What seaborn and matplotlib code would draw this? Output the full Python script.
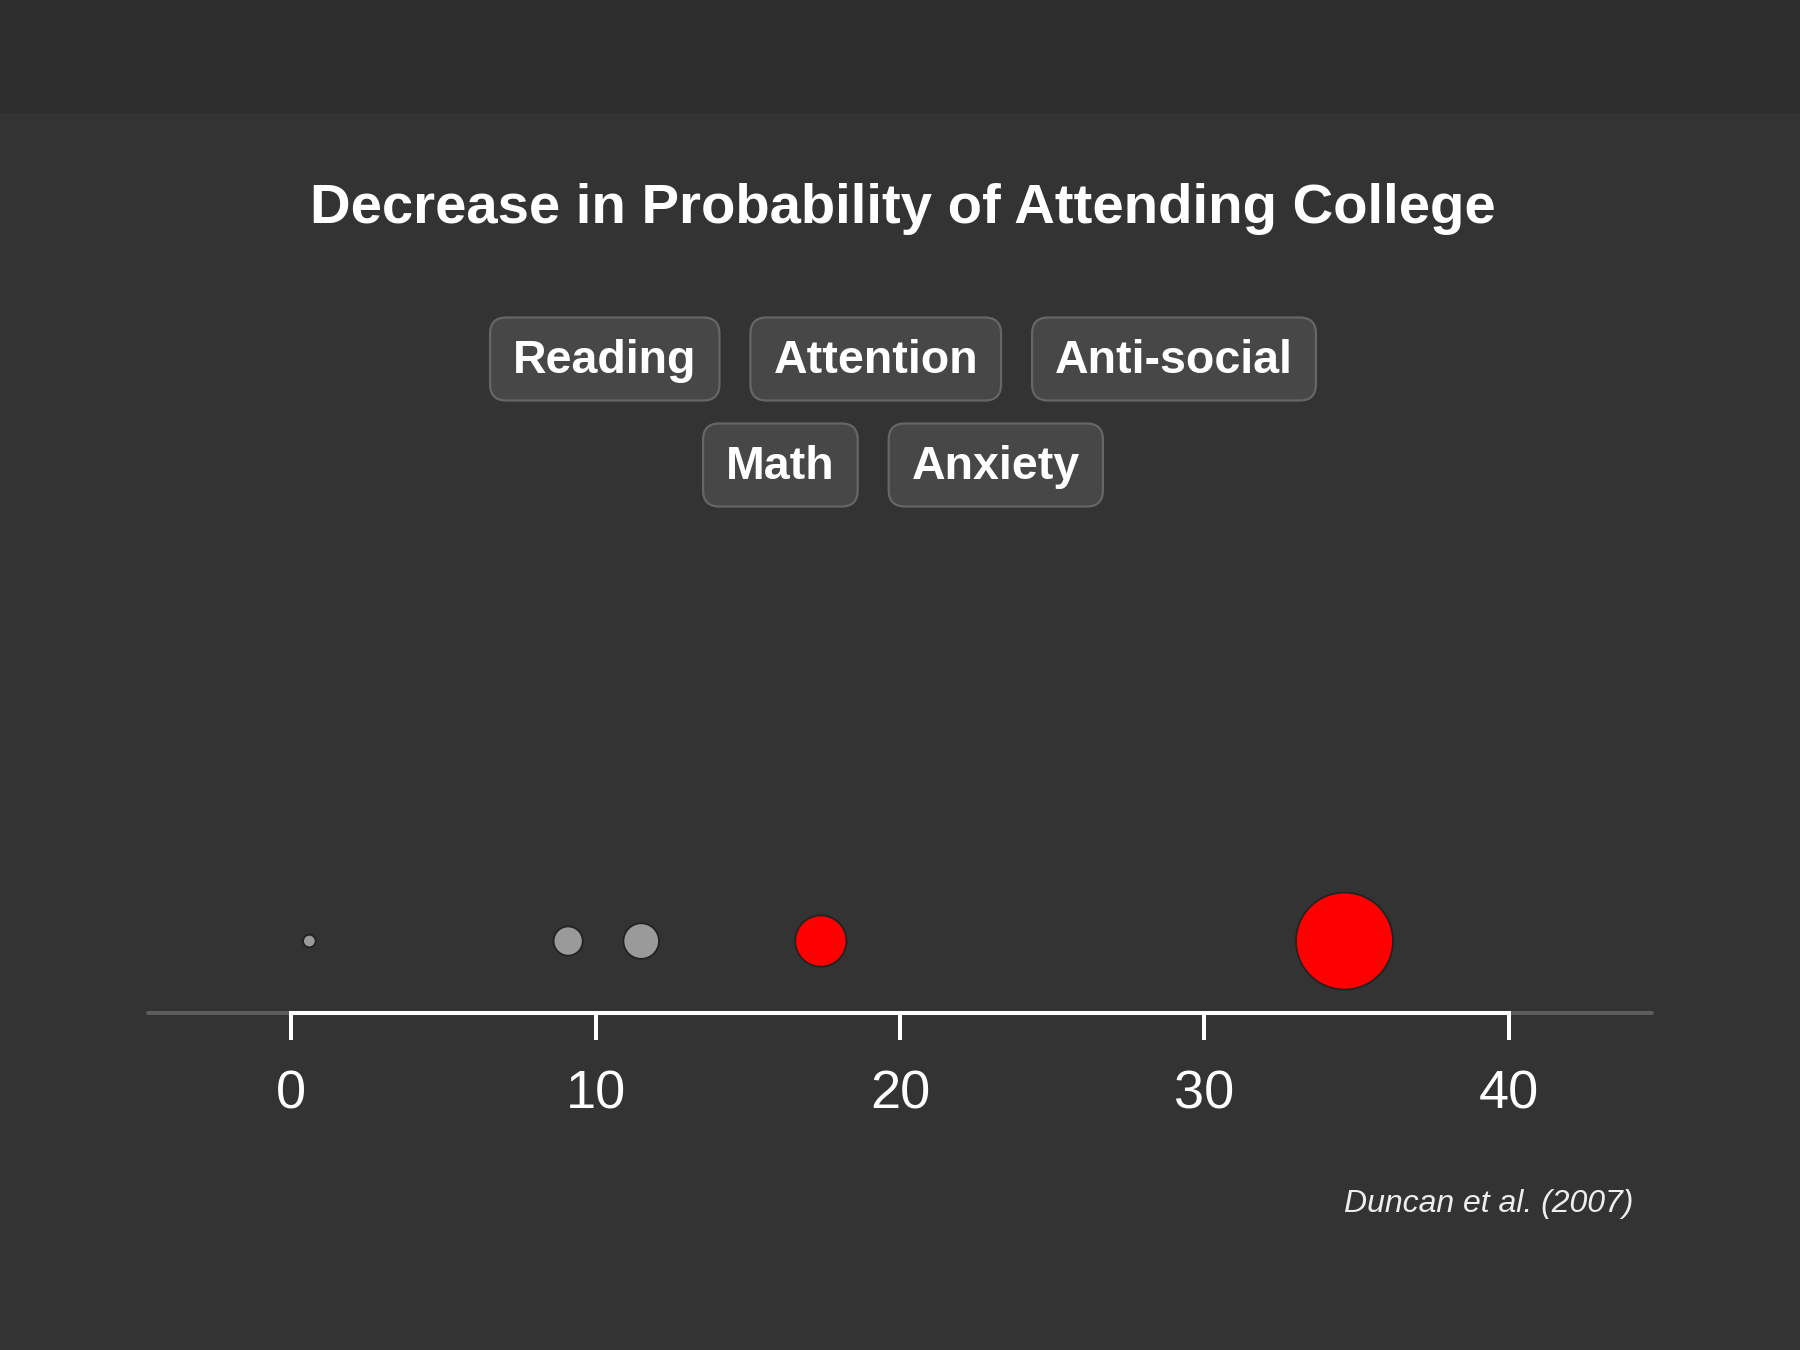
import numpy as np
import pandas as pd
import matplotlib.pyplot as plt
from matplotlib.patches import FancyBboxPatch, Rectangle
import seaborn as sns


# chart data
title = "Decrease in Probability of Attending College"
source = "Duncan et al. (2007)"
factors = ["Reading", "Attention", "Anti-social", "Math", "Anxiety"]
decrease = [0.6, 9.1, 11.5, 17.4, 34.6]
highlight = [False, False, False, True, True]
x_ticks = [0, 10, 20, 30, 40]

W, H = 1800, 1350
BG = "#333333"
BAND = "#2e2e2e"
CX = 903  # horizontal centre of the layout, px


def px_x(x):
    return x / W


def px_y(y):
    # y measured from top of the picture
    return 1 - y / H


def marker_area(v):
    # radius grows linearly with the value (px), converted to pt^2
    r = max(6.3, 2.5 + 1.33 * v)
    return (2 * r * 0.72) ** 2


def draw_buttons(fig, labels, cy, renderer):
    pad_x, h, gap = 23, 83, 31
    texts, widths = [], []
    for lab in labels:
        t = fig.text(0, 0, lab, fontsize=33.5, fontweight="bold", color="white",
                     ha="center", va="center", zorder=3)
        w = t.get_window_extent(renderer).width + 2 * pad_x
        texts.append(t)
        widths.append(w)
    total = sum(widths) + gap * (len(labels) - 1)
    x0 = CX - total / 2
    for t, w in zip(texts, widths):
        box = FancyBboxPatch((px_x(x0), px_y(cy + h / 2)), px_x(w), h / H,
                             boxstyle="round,pad=0,rounding_size=0.009",
                             transform=fig.transFigure, facecolor="#474747",
                             edgecolor="#666666", linewidth=1.6, zorder=2,
                             mutation_aspect=W / H)
        fig.add_artist(box)
        t.set_position((px_x(x0 + w / 2), px_y(cy + 2)))
        x0 += w + gap


sns.set_theme(style="dark")
plt.rcParams["font.family"] = ["Liberation Sans", "DejaVu Sans"]

df = pd.DataFrame({"decrease": decrease, "highlight": highlight,
                   "row": np.zeros(len(decrease))})
size_map = {v: marker_area(v) for v in decrease}

fig = plt.figure(figsize=(W / 100, H / 100), dpi=100)
fig.patch.set_facecolor(BG)
fig.add_artist(Rectangle((0, px_y(113)), 1, 113 / H, transform=fig.transFigure,
                         facecolor=BAND, edgecolor="none", zorder=0))

ax = fig.add_axes([px_x(148), px_y(1013), px_x(1504), 413 / H])
ax.set_facecolor("none")

sns.scatterplot(data=df, x="decrease", y="row", hue="highlight",
                palette={True: "#ff0000", False: "#9a9a9a"},
                size="decrease", sizes=size_map, edgecolor="#222222",
                linewidth=1.3, legend=False, ax=ax, clip_on=False, zorder=3)

ax.set_xlim(-4.7, 44.7)
ax.set_ylim(-1, 4.74)

# grey baseline across the full width, white axis between the end ticks
ax.axhline(-1, color="#5c5c5c", lw=2.9, solid_capstyle="round", zorder=1, clip_on=False)
for s in ["left", "top", "right"]:
    ax.spines[s].set_visible(False)
ax.spines["bottom"].set_color("white")
ax.spines["bottom"].set_linewidth(2.9)
ax.spines["bottom"].set_bounds(x_ticks[0], x_ticks[-1])
ax.spines["bottom"].set_zorder(2)

ax.set_xticks(x_ticks)
ax.set_xticklabels([str(t) for t in x_ticks])
ax.set_yticks([])
ax.tick_params(axis="x", direction="out", length=19.5, width=2.9, color="white",
               labelcolor="white", labelsize=39, pad=21, bottom=True)
ax.set_xlabel("")
ax.set_ylabel("")
ax.grid(False)

fig.text(px_x(CX), px_y(209), title, ha="center", va="center", fontsize=40.5,
         fontweight="bold", color="white")

renderer = fig.canvas.get_renderer()
draw_buttons(fig, factors[:3], 359, renderer)
draw_buttons(fig, factors[3:], 465, renderer)

fig.text(px_x(1633), px_y(1204), source, ha="right", va="center", fontsize=23,
         style="italic", color="#eeeeee")

fig.savefig("out.png", dpi=100, facecolor=fig.get_facecolor())
